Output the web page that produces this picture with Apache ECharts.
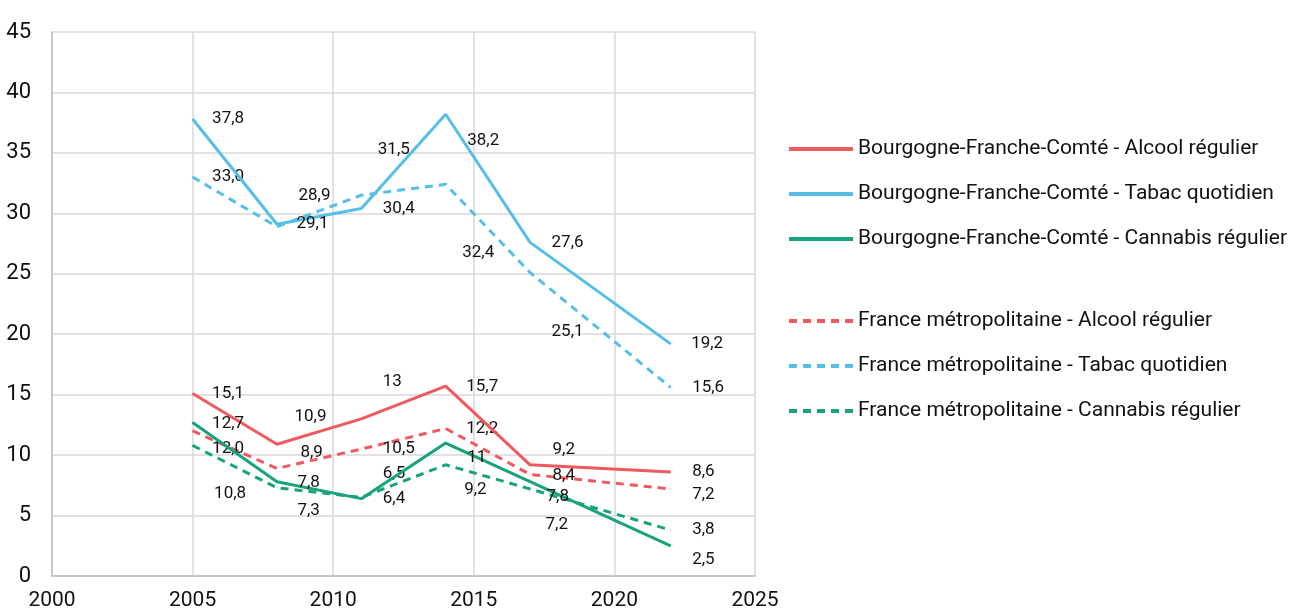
<!DOCTYPE html>
<html>
<head>
<meta charset="utf-8">
<script src="https://cdn.jsdelivr.net/npm/echarts@6/dist/echarts.min.js"></script>
<style>
  html, body { margin: 0; padding: 0; background: #fff; }
  #chart { width: 1300px; height: 613px; }
</style>
</head>
<body>
<div id="chart"></div>
<script>
// Survey years
const years = [2005, 2008, 2011, 2014, 2017, 2022];

// Bourgogne-Franche-Comté (%)
const bfcAlcool   = [15.1, 10.9, 13, 15.7, 9.2, 8.6];
const bfcTabac    = [37.8, 29.1, 30.4, 38.2, 27.6, 19.2];
const bfcCannabis = [12.7, 7.8, 6.4, 11, 7.8, 2.5];

// France métropolitaine (%)
const frAlcool    = [12.0, 8.9, 10.5, 12.2, 8.4, 7.2];
const frTabac     = [33.0, 28.9, 31.5, 32.4, 25.1, 15.6];
const frCannabis  = [10.8, 7.3, 6.5, 9.2, 7.2, 3.8];

// Label nudges (px) so overlapping value labels stay readable
const nudges = {
  bfcTabac:    [[0,0],[0,0],[2,0],[2,27],[2,0],[1,0]],
  frTabac:     [[0,0],[2,-31],[-3,-45],[-3,68],[2,59],[2,0]],
  bfcAlcool:   [[0,0],[-2,-27],[2,-37],[1,1],[3,-15],[2,0]],
  frAlcool:    [[0,18],[4,-16],[2,0],[1,0],[3,1],[2,6]],
  bfcCannabis: [[0,1],[1,1],[2,0],[2,15],[-3,15],[2,14]],
  frCannabis:  [[2,48],[1,23],[2,-24],[-1,25],[-4,36],[2,0]]
};

const RED = '#EE5A5F', BLUE = '#55BFE8', GREEN = '#17A37E';
const FONT = 'Roboto, "Liberation Sans", sans-serif';

const fmtBfc = v => String(v).replace('.', ',');
const fmtFr  = v => v.toFixed(1).replace('.', ',');

function makeSeries(name, values, color, dashed, key, fmt) {
  return {
    name: name,
    type: 'line',
    symbol: 'circle',
    symbolSize: 1,
    showSymbol: true,
    animation: false,
    lineStyle: { color: color, width: 3, type: dashed ? [8, 6] : 'solid' },
    itemStyle: { color: color },
    label: {
      show: true,
      position: 'right',
      distance: 19,
      color: '#111',
      fontFamily: FONT,
      fontSize: 17,
      formatter: p => fmt(p.value[1])
    },
    labelLayout: p => ({ dx: nudges[key][p.dataIndex][0], dy: nudges[key][p.dataIndex][1] }),
    data: years.map((y, i) => [y, values[i]]),
    z: dashed ? 2 : 3
  };
}

const bfcNames = [
  'Bourgogne-Franche-Comté - Alcool régulier',
  'Bourgogne-Franche-Comté - Tabac quotidien',
  'Bourgogne-Franche-Comté - Cannabis régulier'
];
const frNames = [
  'France métropolitaine - Alcool régulier',
  'France métropolitaine - Tabac quotidien',
  'France métropolitaine - Cannabis régulier'
];

const legendCommon = {
  orient: 'vertical',
  left: 787,
  padding: 0,
  itemWidth: 64,
  itemHeight: 14,
  itemGap: 21,
  itemStyle: { opacity: 0 },
  lineStyle: { width: 4 },
  textStyle: { fontFamily: FONT, fontSize: 21, color: '#111', lineHeight: 24 },
  selectedMode: false
};

const chart = echarts.init(document.getElementById('chart'), null, { renderer: 'canvas' });
chart.setOption({
  backgroundColor: '#fff',
  animation: false,
  grid: { left: 52, right: 545, top: 32, bottom: 37, containLabel: false },
  legend: [
    Object.assign({}, legendCommon, { top: 137, data: bfcNames }),
    Object.assign({}, legendCommon, { top: 309, data: frNames })
  ],
  xAxis: {
    type: 'value',
    min: 2000, max: 2025, interval: 5,
    axisLine: { show: true, lineStyle: { color: '#BFBFBF', width: 1.5 } },
    axisTick: { show: false },
    splitLine: { show: true, lineStyle: { color: '#D9D9D9', width: 1.5 } },
    axisLabel: { color: '#111', fontFamily: FONT, fontSize: 21, margin: 14,
                 formatter: v => String(v) }
  },
  yAxis: {
    type: 'value',
    min: 0, max: 45, interval: 5,
    axisLine: { show: true, lineStyle: { color: '#BFBFBF', width: 1.5 } },
    axisTick: { show: false },
    splitLine: { show: true, lineStyle: { color: '#D9D9D9', width: 1.5 } },
    axisLabel: { color: '#111', fontFamily: FONT, fontSize: 22, margin: 21 }
  },
  series: [
    makeSeries(bfcNames[0], bfcAlcool, RED, false, 'bfcAlcool', fmtBfc),
    makeSeries(bfcNames[1], bfcTabac, BLUE, false, 'bfcTabac', fmtBfc),
    makeSeries(bfcNames[2], bfcCannabis, GREEN, false, 'bfcCannabis', fmtBfc),
    makeSeries(frNames[0], frAlcool, RED, true, 'frAlcool', fmtFr),
    makeSeries(frNames[1], frTabac, BLUE, true, 'frTabac', fmtFr),
    makeSeries(frNames[2], frCannabis, GREEN, true, 'frCannabis', fmtFr)
  ]
});
</script>
</body>
</html>
